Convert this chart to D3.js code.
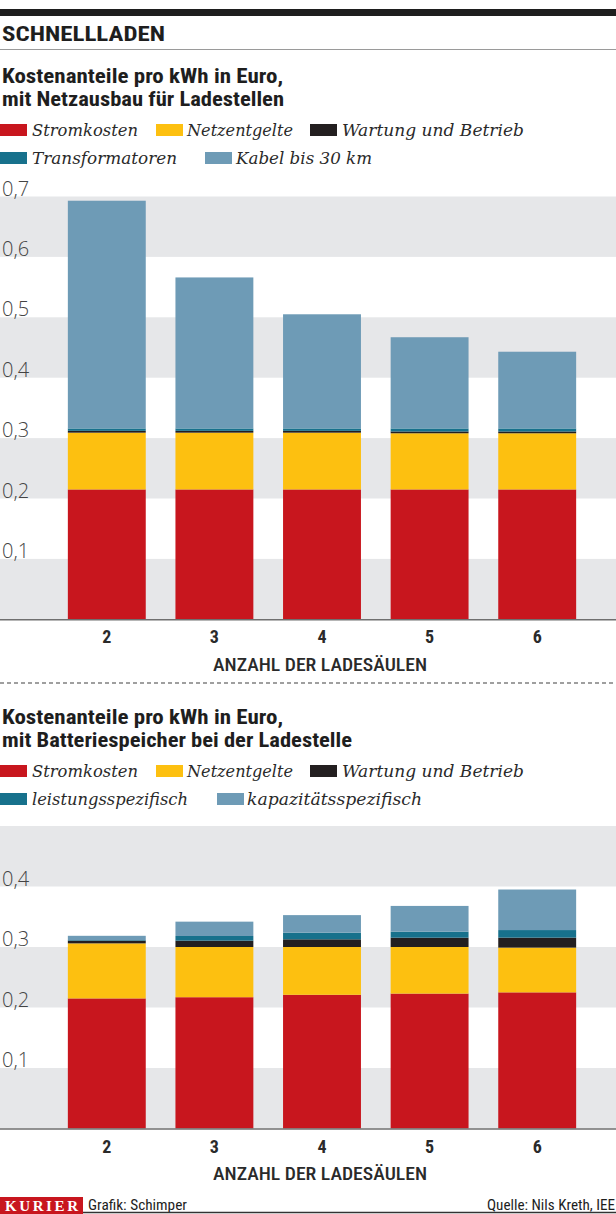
<!DOCTYPE html>
<html><head><meta charset="utf-8">
<script src="https://cdn.jsdelivr.net/npm/d3@7"></script>
<style>body{margin:0;background:#fff} svg{display:block}</style>
</head><body><svg id="c" width="616" height="1214"></svg>
<script>
// ---------- DATA ----------
const categories = ["2", "3", "4", "5", "6"];

// Chart 1: mit Netzausbau für Ladestellen
const keys1 = ["Stromkosten", "Netzentgelte", "Wartung und Betrieb", "Transformatoren", "Kabel bis 30 km"];
const stromkosten1     = [0.215, 0.215, 0.215, 0.215, 0.215];
const netzentgelte1    = [0.094, 0.094, 0.094, 0.093, 0.093];
const wartung1         = [0.003, 0.003, 0.003, 0.003, 0.003];
const transformatoren1 = [0.004, 0.004, 0.004, 0.005, 0.005];
const kabel1           = [0.377, 0.250, 0.189, 0.151, 0.127];
const yTicks1 = [0.1, 0.2, 0.3, 0.4, 0.5, 0.6, 0.7];

// Chart 2: mit Batteriespeicher bei der Ladestelle
const keys2 = ["Stromkosten", "Netzentgelte", "Wartung und Betrieb", "leistungsspezifisch", "kapazitätsspezifisch"];
const stromkosten2  = [0.215, 0.217, 0.221, 0.223, 0.225];
const netzentgelte2 = [0.091, 0.083, 0.079, 0.077, 0.074];
const wartung2      = [0.0045, 0.0105, 0.0127, 0.0154, 0.0165];
const leistung2     = [0.001, 0.0077, 0.011, 0.010, 0.0125];
const kapazitaet2   = [0.007, 0.0237, 0.029, 0.0425, 0.067];
const yTicks2 = [0.1, 0.2, 0.3, 0.4];

const title = "SCHNELLLADEN";
const subtitle1 = ["Kostenanteile pro kWh in Euro,", "mit Netzausbau für Ladestellen"];
const subtitle2 = ["Kostenanteile pro kWh in Euro,", "mit Batteriespeicher bei der Ladestelle"];
const xTitle = "ANZAHL DER LADESÄULEN";
const credit = "Grafik: Schimper";
const source = "Quelle: Nils Kreth, IEE";

// ---------- STYLE ----------
const colors = ["#c8161e", "#fdc010", "#231f20", "#17718c", "#6e9bb6"];
const condensed = "'Liberation Sans Narrow','Roboto Condensed','DejaVu Sans Condensed',Roboto,sans-serif";
const serif = "'DejaVu Serif','Liberation Serif',serif";
const sans = "'Open Sans',Roboto,sans-serif";
const ink = "#1e1e1e";
const bandFill = "#e6e7e9";

const W = 616;
const svg = d3.select("#c");
svg.append("rect").attr("width", W).attr("height", 1214).attr("fill", "#fff");

const loc = d3.formatLocale({decimal: ",", thousands: ".", grouping: [3], currency: ["", "€"]});
const fmt = loc.format(".1f");

// header
svg.append("rect").attr("x", 0).attr("y", 9).attr("width", W).attr("height", 7).attr("fill", ink);
svg.append("text").attr("x", 2).attr("y", 41).text(title)
  .attr("font-family", condensed).attr("font-weight", "bold").attr("font-size", 21)
  .attr("fill", ink).attr("textLength", 163).attr("lengthAdjust", "spacingAndGlyphs");
svg.append("line").attr("x1", 0).attr("x2", W).attr("y1", 49.5).attr("y2", 49.5)
  .attr("stroke", "#9a9a9a").attr("stroke-width", 1);

// separator
svg.append("line").attr("x1", 0).attr("x2", W).attr("y1", 683).attr("y2", 683)
  .attr("stroke", "#808080").attr("stroke-width", 1.5).attr("stroke-dasharray", "4,3");

const x = d3.scaleBand().domain(categories).range([53, 591]).paddingInner(0.276).paddingOuter(0.138);

function drawChart(cfg) {
  const g = svg.append("g");
  // subtitle
  cfg.subtitle.forEach((t, i) => {
    g.append("text").attr("x", 2).attr("y", cfg.subY + i * 23).text(t)
      .attr("font-family", condensed).attr("font-weight", "bold").attr("font-size", 19.5)
      .attr("fill", ink).attr("textLength", cfg.subLen[i]).attr("lengthAdjust", "spacingAndGlyphs");
  });
  // legend
  cfg.keys.forEach((k, i) => {
    const L = cfg.legend[i];
    const by = cfg.legY + L.row * 28;
    g.append("rect").attr("x", L.x).attr("y", by - 12).attr("width", 27).attr("height", 12).attr("fill", colors[i]);
    g.append("text").attr("x", L.tx).attr("y", by).text(k)
      .attr("font-family", serif).attr("font-style", "italic").attr("font-size", 17.5)
      .attr("fill", "#2a2a2a").attr("textLength", L.w).attr("lengthAdjust", "spacingAndGlyphs");
  });

  const y = d3.scaleLinear().domain([0, cfg.yMax]).range([cfg.y0, cfg.yTop]);
  // bands
  const bandStarts = d3.range(0, cfg.yMax - 1e-9, 0.2);
  g.append("g").selectAll("rect").data(bandStarts).join("rect")
    .attr("x", 0).attr("width", W)
    .attr("y", d => y(d + 0.1)).attr("height", d => y(d) - y(d + 0.1))
    .attr("fill", bandFill);

  // y axis labels
  const ya = g.append("g").call(d3.axisRight(y).tickValues(cfg.ticks).tickFormat(fmt).tickSize(0).tickPadding(0));
  ya.select(".domain").remove();
  ya.selectAll("text").attr("x", 2).attr("dy", -1.5)
    .attr("font-family", sans).attr("font-size", 20).attr("font-weight", 300).attr("fill", "#444");

  // stacked bars
  const table = categories.map((c, i) => {
    const o = {cat: c};
    cfg.keys.forEach((k, j) => o[k] = cfg.series[j][i]);
    return o;
  });
  const stack = d3.stack().keys(cfg.keys)(table);
  g.append("g").selectAll("g").data(stack).join("g")
    .attr("fill", (d, i) => colors[i])
    .selectAll("rect").data(d => d).join("rect")
    .attr("x", d => x(d.data.cat)).attr("width", x.bandwidth())
    .attr("y", d => y(d[1])).attr("height", d => y(d[0]) - y(d[1]));

  // baseline
  g.append("line").attr("x1", 0).attr("x2", W).attr("y1", cfg.y0 + 0.5).attr("y2", cfg.y0 + 0.5)
    .attr("stroke", "#6f6f6f").attr("stroke-width", 1.5);

  // x axis
  const xa = g.append("g").attr("transform", `translate(0,${cfg.y0})`)
    .call(d3.axisBottom(x).tickSize(0).tickPadding(0));
  xa.select(".domain").remove();
  xa.selectAll("text").attr("y", 0).attr("dy", 24)
    .attr("font-family", condensed).attr("font-weight", "bold").attr("font-size", 18).attr("fill", "#2a2a2a");
  g.append("text").attr("x", 320).attr("y", cfg.y0 + 51.5).attr("text-anchor", "middle").text(xTitle)
    .attr("font-family", condensed).attr("font-weight", 500).attr("font-size", 17.5)
    .attr("fill", "#2a2a2a").attr("textLength", 214).attr("lengthAdjust", "spacingAndGlyphs");
}

drawChart({
  subtitle: subtitle1, subY: 83, subLen: [281, 282],
  keys: keys1, legY: 136,
  legend: [{x: 0, tx: 32, row: 0, w: 106}, {x: 156, tx: 187, row: 0, w: 106}, {x: 310, tx: 342, row: 0, w: 182},
           {x: 0, tx: 32, row: 1, w: 145}, {x: 205, tx: 236, row: 1, w: 136}],
  series: [stromkosten1, netzentgelte1, wartung1, transformatoren1, kabel1],
  yMax: 0.7, y0: 619.3, yTop: 196.5, ticks: yTicks1
});
drawChart({
  subtitle: subtitle2, subY: 724, subLen: [281, 350],
  keys: keys2, legY: 777,
  legend: [{x: 0, tx: 32, row: 0, w: 106}, {x: 156, tx: 187, row: 0, w: 106}, {x: 310, tx: 342, row: 0, w: 182},
           {x: 0, tx: 32, row: 1, w: 156}, {x: 217, tx: 247, row: 1, w: 175}],
  series: [stromkosten2, netzentgelte2, wartung2, leistung2, kapazitaet2],
  yMax: 0.5, y0: 1128.5, yTop: 826, ticks: yTicks2
});

// footer
svg.append("rect").attr("x", 0).attr("y", 1197).attr("width", 83).attr("height", 17).attr("fill", "#c8161e");
svg.append("text").attr("x", 5).attr("y", 1211).text("KURIER")
  .attr("font-family", "'Liberation Serif',serif").attr("font-weight", "bold").attr("font-size", 15)
  .attr("fill", "#fff").attr("textLength", 73).attr("lengthAdjust", "spacing");
svg.append("text").attr("x", 88).attr("y", 1210).text(credit)
  .attr("font-family", condensed).attr("font-size", 14).attr("fill", ink)
  .attr("textLength", 99).attr("lengthAdjust", "spacingAndGlyphs");
svg.append("text").attr("x", 615).attr("y", 1210).attr("text-anchor", "end").text(source)
  .attr("font-family", condensed).attr("font-size", 14).attr("fill", ink)
  .attr("textLength", 128).attr("lengthAdjust", "spacingAndGlyphs");
svg.append("line").attr("x1", 83).attr("x2", W).attr("y1", 1212.5).attr("y2", 1212.5)
  .attr("stroke", "#333").attr("stroke-width", 1.5);
</script></body></html>
